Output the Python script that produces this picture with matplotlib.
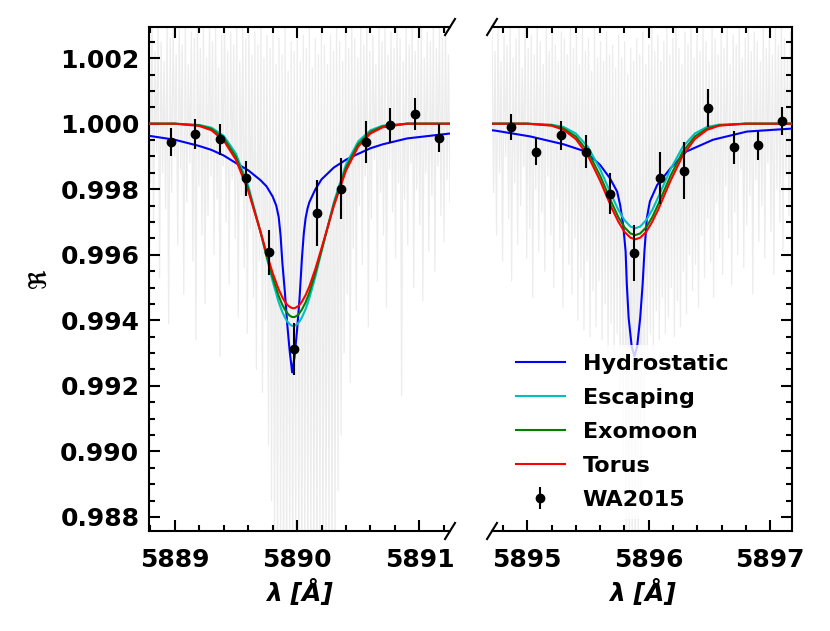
import numpy as np
import matplotlib
matplotlib.use('Agg')
from matplotlib import pyplot as plt

# WA2015 binned points (Na D2 left, Na D1 right)
wa_x_l = [5888.97, 5889.17, 5889.37, 5889.58, 5889.77, 5889.975, 5890.16, 5890.36, 5890.56, 5890.76, 5890.96, 5891.16]
wa_y_l = [0.99944, 0.99968, 0.99952, 0.99833, 0.99608, 0.99312, 0.99728, 0.99802, 0.99944, 0.99995, 1.00030, 0.99956]
wa_e_l = [0.00043, 0.00045, 0.00048, 0.00053, 0.00069, 0.00080, 0.00100, 0.00093, 0.00063, 0.00053, 0.00048, 0.00043]

wa_x_r = [5894.87, 5895.07, 5895.28, 5895.48, 5895.68, 5895.88, 5896.09, 5896.29, 5896.49, 5896.70, 5896.90, 5897.10]
wa_y_r = [0.99990, 0.99915, 0.99964, 0.99915, 0.99786, 0.99605, 0.99834, 0.99857, 1.00048, 0.99928, 0.99934, 1.00008]
wa_e_r = [0.00040, 0.00042, 0.00044, 0.00050, 0.00062, 0.00086, 0.00080, 0.00086, 0.00057, 0.00050, 0.00044, 0.00042]

# model curves, left line
mod_x_l = [5888.79, 5889.0, 5889.2, 5889.3, 5889.4, 5889.5, 5889.6, 5889.7, 5889.75, 5889.8, 5889.85,
           5889.88, 5889.9, 5889.92, 5889.94, 5889.96, 5889.98, 5890.0, 5890.02, 5890.04, 5890.07,
           5890.1, 5890.15, 5890.2, 5890.3, 5890.4, 5890.5, 5890.6, 5890.7, 5890.9, 5891.25]
torus_l = [1.0, 1.0, 0.99993, 0.9998, 0.99949, 0.9989, 0.99796, 0.99672, 0.99606, 0.99545, 0.99494,
           0.9947, 0.99457, 0.99447, 0.99441, 0.99437, 0.99437, 0.99441, 0.99447, 0.99457, 0.99477,
           0.99503, 0.99557, 0.9962, 0.99748, 0.99857, 0.9993, 0.9997, 0.99989, 1.0, 1.0]
exomoon_l = [1.0, 1.0, 0.99995, 0.99984, 0.99956, 0.99899, 0.99803, 0.99671, 0.99599, 0.99532, 0.99474,
             0.99447, 0.99433, 0.99422, 0.99414, 0.9941, 0.9941, 0.99414, 0.99422, 0.99433, 0.99455,
             0.99484, 0.99545, 0.99614, 0.99753, 0.99866, 0.99938, 0.99975, 0.99992, 1.0, 1.0]
escaping_l = [1.0, 1.0, 0.99996, 0.99988, 0.99963, 0.99909, 0.99812, 0.99672, 0.99595, 0.9952, 0.99455,
              0.99425, 0.99409, 0.99396, 0.99388, 0.99383, 0.99383, 0.99388, 0.99396, 0.99409, 0.99434,
              0.99467, 0.99534, 0.9961, 0.9976, 0.99876, 0.99946, 0.9998, 0.99994, 1.0, 1.0]
hydro_x_l = [5888.79, 5889.0, 5889.2, 5889.3, 5889.4, 5889.5, 5889.6, 5889.7, 5889.75, 5889.8, 5889.83,
             5889.85, 5889.865, 5889.88, 5889.9, 5889.92, 5889.94, 5889.96, 5889.98, 5890.0, 5890.02,
             5890.04, 5890.055, 5890.07, 5890.085, 5890.1, 5890.15, 5890.2, 5890.3, 5890.4, 5890.5,
             5890.6, 5890.7, 5890.9, 5891.25]
hydro_l = [0.99963, 0.99951, 0.99932, 0.9992, 0.99903, 0.9988, 0.99858, 0.99828, 0.99809, 0.99778, 0.9975,
           0.99715, 0.9966, 0.99575, 0.99488, 0.99387, 0.99305, 0.99241, 0.9929, 0.9937, 0.99465,
           0.9959, 0.99665, 0.99712, 0.9974, 0.9976, 0.998, 0.9983, 0.99866, 0.9989, 0.99908,
           0.99925, 0.99937, 0.99955, 0.9997]

# model curves, right line
mod_x_r = [5894.71, 5895.0, 5895.2, 5895.3, 5895.4, 5895.5, 5895.6, 5895.7, 5895.75, 5895.8, 5895.85, 5895.89,
           5895.93, 5895.98, 5896.03, 5896.08, 5896.18, 5896.28, 5896.38, 5896.48, 5896.58, 5896.8, 5897.18]
torus_r = [1.0, 1.0, 0.99994, 0.99981, 0.99953, 0.99902, 0.99826, 0.99739, 0.99701, 0.9967, 0.99652, 0.99647,
           0.99652, 0.9967, 0.99701, 0.99739, 0.99826, 0.99902, 0.99953, 0.99981, 0.99994, 1.0, 1.0]
exomoon_r = [1.0, 1.0, 0.99995, 0.99985, 0.99961, 0.99914, 0.99841, 0.99755, 0.99715, 0.99684, 0.99665, 0.9966,
             0.99665, 0.99684, 0.99715, 0.99755, 0.99841, 0.99914, 0.99961, 0.99985, 0.99995, 1.0, 1.0]
escaping_r = [1.0, 1.0, 0.99997, 0.9999, 0.9997, 0.99929, 0.99861, 0.99777, 0.99737, 0.99706, 0.99686, 0.99681,
              0.99686, 0.99706, 0.99737, 0.99777, 0.99861, 0.99929, 0.9997, 0.9999, 0.99997, 1.0, 1.0]
hydro_x_r = [5894.71, 5894.75, 5895.025, 5895.3, 5895.48, 5895.6, 5895.68, 5895.74, 5895.765, 5895.79,
             5895.81, 5895.82, 5895.835, 5895.86, 5895.883, 5895.905, 5895.93, 5895.95, 5895.965, 5895.985,
             5896.01, 5896.07, 5896.18, 5896.31, 5896.53, 5896.81, 5897.18]
hydro_r = [0.9998, 0.99978, 0.99961, 0.99937, 0.99915, 0.99874, 0.99834, 0.99793, 0.99752, 0.99691,
           0.9961, 0.99509, 0.99407, 0.9932, 0.9929, 0.9932, 0.99407, 0.99509, 0.9961, 0.99712,
           0.99763, 0.99813, 0.99864, 0.99915, 0.99951, 0.99976, 0.99985]

# high-resolution spectrum (grey)
spec_l = [1.0027, 0.9982, 1.0031, 0.9969, 1.0022, 0.9991, 1.0030, 0.9953, 1.0025, 0.9985,
          1.0019, 0.9974, 1.0032, 0.9939, 1.0026, 0.9979, 1.0029, 0.9990, 1.0021, 0.9963,
          1.0030, 0.9986, 1.0024, 0.9948, 1.0031, 0.9976, 1.0018, 0.9988, 1.0028, 0.9958,
          1.0026, 0.9934, 1.0032, 0.9981, 1.0023, 0.9966, 1.0029, 0.9945, 1.0020, 0.9972,
          1.0031, 0.9984, 1.0025, 0.9960, 1.0030, 0.9977, 1.0017, 0.9929, 1.0027, 0.9987,
          1.0032, 0.9970, 1.0022, 0.9951, 1.0028, 0.9983, 1.0024, 0.9965, 1.0030, 0.9941,
          1.0019, 0.9978, 1.0029, 0.9956, 1.0026, 0.9936, 1.0031, 0.9968, 1.0021, 0.9947,
          1.0028, 0.9925, 1.0024, 0.9958, 1.0030, 0.9918, 1.0020, 0.9940, 1.0027, 0.9902,
          1.0023, 0.9885, 1.0029, 0.9866, 1.0018, 0.9858, 1.0026, 0.9871, 1.0021, 0.9853,
          1.0030, 0.9862, 1.0016, 0.9868, 1.0025, 0.9855, 1.0022, 0.9874, 1.0028, 0.9860,
          1.0019, 0.9852, 1.0027, 0.9865, 1.0023, 0.9857, 1.0030, 0.9869, 1.0017, 0.9861,
          1.0026, 0.9854, 1.0021, 0.9873, 1.0029, 0.9859, 1.0024, 0.9866, 1.0018, 0.9870,
          1.0027, 0.9862, 1.0022, 0.9876, 1.0030, 0.9888, 1.0025, 0.9905, 1.0019, 0.9930,
          1.0028, 0.9948, 1.0023, 0.9921, 1.0031, 0.9962, 1.0026, 0.9943, 1.0020, 0.9975,
          1.0029, 0.9957, 1.0024, 0.9984, 1.0031, 0.9938, 1.0022, 0.9971, 1.0027, 0.9989,
          1.0018, 0.9952, 1.0030, 0.9979, 1.0025, 0.9966, 1.0032, 0.9944, 1.0021, 0.9986,
          1.0028, 0.9973, 1.0023, 0.9959, 1.0031, 0.9982, 1.0026, 0.9917, 1.0019, 0.9977,
          1.0029, 0.9963, 1.0024, 0.9988, 1.0030, 0.9950, 1.0022, 0.9980, 1.0027, 0.9969,
          1.0032, 0.9946, 1.0020, 0.9985, 1.0028, 0.9961, 1.0025, 0.9978, 1.0030, 0.9955,
          1.0023, 0.9987, 1.0029, 0.9972, 1.0026, 0.9964, 1.0031, 0.9983, 1.0021, 0.9976]
spec_r = [1.0028, 0.9979, 1.0022, 0.9966, 1.0031, 0.9985, 1.0019, 0.9958, 1.0027, 0.9990,
          1.0024, 0.9971, 1.0030, 0.9952, 1.0020, 0.9982, 1.0026, 0.9963, 1.0029, 0.9975,
          1.0017, 0.9987, 1.0030, 0.9959, 1.0023, 0.9968, 1.0027, 0.9947, 1.0021, 0.9980,
          1.0031, 0.9961, 1.0025, 0.9973, 1.0018, 0.9955, 1.0029, 0.9984, 1.0022, 0.9966,
          1.0030, 0.9950, 1.0024, 0.9977, 1.0019, 0.9962, 1.0028, 0.9944, 1.0026, 0.9970,
          1.0021, 0.9957, 1.0031, 0.9948, 1.0023, 0.9965, 1.0027, 0.9940, 1.0018, 0.9953,
          1.0029, 0.9937, 1.0022, 0.9958, 1.0026, 0.9935, 1.0016, 0.9949, 1.0030, 0.9938,
          1.0020, 0.9952, 1.0025, 0.9934, 1.0019, 0.9945, 1.0028, 0.9930, 1.0021, 0.9939,
          1.0024, 0.9926, 1.0017, 0.9936, 1.0027, 0.9915, 1.0020, 0.9898, 1.0025, 0.9875,
          1.0015, 0.9860, 1.0023, 0.9866, 1.0019, 0.9856, 1.0026, 0.9870, 1.0021, 0.9885,
          1.0028, 0.9908, 1.0018, 0.9927, 1.0024, 0.9936, 1.0030, 0.9931, 1.0022, 0.9943,
          1.0027, 0.9934, 1.0019, 0.9947, 1.0025, 0.9936, 1.0029, 0.9941, 1.0021, 0.9950,
          1.0026, 0.9935, 1.0031, 0.9946, 1.0023, 0.9938, 1.0018, 0.9955, 1.0028, 0.9942,
          1.0024, 0.9960, 1.0030, 0.9949, 1.0020, 0.9957, 1.0027, 0.9944, 1.0022, 0.9966,
          1.0029, 0.9953, 1.0025, 0.9971, 1.0019, 0.9958, 1.0031, 0.9947, 1.0026, 0.9976,
          1.0021, 0.9962, 1.0028, 0.9954, 1.0023, 0.9981, 1.0030, 0.9965, 1.0018, 0.9951,
          1.0027, 0.9973, 1.0024, 0.9960, 1.0031, 0.9986, 1.0020, 0.9956, 1.0026, 0.9969,
          1.0029, 0.9978, 1.0022, 0.9948, 1.0028, 0.9983, 1.0025, 0.9964, 1.0019, 0.9975,
          1.0030, 0.9959, 1.0023, 0.9988, 1.0027, 0.9967, 1.0021, 0.9954, 1.0029, 0.9980,
          1.0024, 0.9970, 1.0031, 0.9961, 1.0026, 0.9984, 1.0020, 0.9972, 1.0028, 0.9977]
spec_x_l = np.linspace(5888.79, 5891.25, len(spec_l))
spec_x_r = np.linspace(5894.71, 5897.18, len(spec_r))

xlim_l = (5888.79, 5891.25)
xlim_r = (5894.71, 5897.18)
ylim = (0.98757, 1.00295)

plt.rcParams['font.weight'] = 'bold'
plt.rcParams['axes.linewidth'] = 1.5

fig = plt.figure(figsize=(8.3, 6.31), dpi=100)
ax1 = fig.add_axes([0.1795, 0.1585, 0.3627, 0.7987])
ax2 = fig.add_axes([0.5928, 0.1585, 0.3614, 0.7987])

panels = [
    (ax1, spec_x_l, spec_l, mod_x_l, hydro_x_l, hydro_l, escaping_l, exomoon_l, torus_l, wa_x_l, wa_y_l, wa_e_l, xlim_l),
    (ax2, spec_x_r, spec_r, mod_x_r, hydro_x_r, hydro_r, escaping_r, exomoon_r, torus_r, wa_x_r, wa_y_r, wa_e_r, xlim_r),
]
for ax, sx, sy, mx, hx, hy, esc, exo, tor, wx, wy, we, xl in panels:
    ax.plot(sx, sy, color='#ececec', lw=0.9, zorder=1)
    ax.plot(hx, hy, color='b', lw=1.5, label='Hydrostatic', zorder=3)
    ax.plot(mx, esc, color='c', lw=1.5, label='Escaping', zorder=3)
    ax.plot(mx, exo, color='g', lw=1.5, label='Exomoon', zorder=3)
    ax.plot(mx, tor, color='r', lw=1.5, label='Torus', zorder=3)
    ax.errorbar(wx, wy, yerr=we, fmt='o', color='k', ms=6, elinewidth=1.5, capsize=0,
                label='WA2015', zorder=4)
    ax.set_xlim(xl)
    ax.set_ylim(ylim)
    ax.set_xlabel('λ [Å]', fontsize=18, fontweight='bold', fontstyle='italic', labelpad=5)
    ax.minorticks_on()
    ax.xaxis.set_minor_locator(plt.MultipleLocator(0.2))
    ax.yaxis.set_minor_locator(plt.MultipleLocator(0.0005))
    ax.yaxis.set_major_locator(plt.MultipleLocator(0.002))
    ax.tick_params(which='both', direction='in', top=True, labelsize=18, width=1.5, pad=7)
    ax.tick_params(axis='x', which='both', pad=12)
    ax.tick_params(which='major', length=8)
    ax.tick_params(which='minor', length=4)

ax1.set_xticks([5889, 5890, 5891])
ax2.set_xticks([5895, 5896, 5897])
ax1.yaxis.set_major_formatter(plt.FormatStrFormatter('%.3f'))
ax1.spines['right'].set_visible(False)
ax1.tick_params(which='both', right=False)
ax2.spines['left'].set_visible(False)
ax2.tick_params(which='both', left=False, right=True, labelleft=False)
ax1.set_ylabel(r'$\Re$', fontsize=17, labelpad=6)

# broken axis marks
dx, dy = 0.0166, 0.016
kw = dict(color='k', lw=1.5, clip_on=False)
ax1.plot((1 - dx, 1 + dx), (-dy, dy), transform=ax1.transAxes, **kw)
ax1.plot((1 - dx, 1 + dx), (1 - dy, 1 + dy), transform=ax1.transAxes, **kw)
ax2.plot((-dx, dx), (-dy, dy), transform=ax2.transAxes, **kw)
ax2.plot((-dx, dx), (1 - dy, 1 + dy), transform=ax2.transAxes, **kw)

leg = ax2.legend(loc='lower left', bbox_to_anchor=(0.013, 0.002), fontsize=16, frameon=True,
                 framealpha=0.8, edgecolor='none', labelspacing=0.63, handlelength=2.2)

plt.savefig('out.png', dpi=100)
